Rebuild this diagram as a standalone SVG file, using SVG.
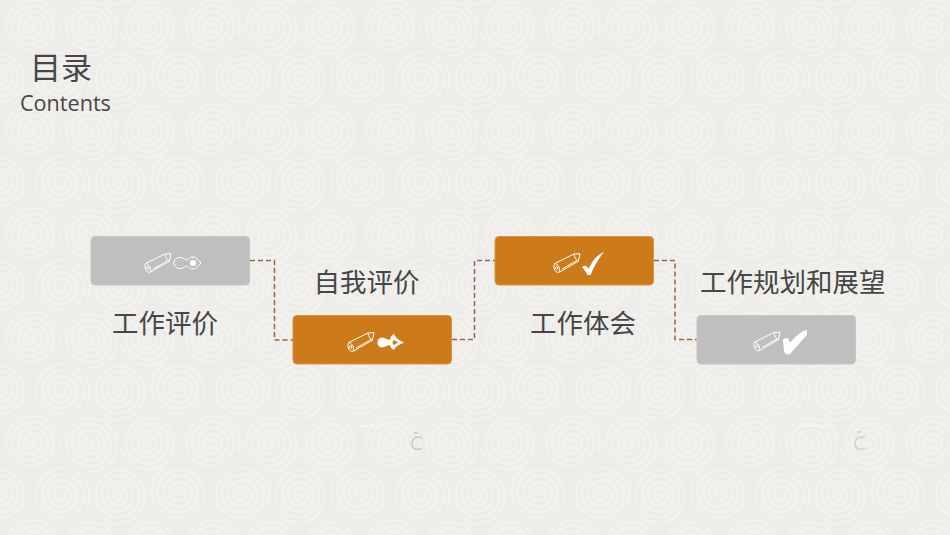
<svg xmlns="http://www.w3.org/2000/svg" width="950" height="535" viewBox="0 0 950 535">
<style>
.cjk{font-family:"Noto Sans CJK SC","Noto Sans",sans-serif;fill:#464646;font-size:26.500px}
.box{stroke-width:1}
.grey{fill:#bfbfbf;stroke:#c6c6c4}
.orange{fill:#cd7a1a;stroke:#d79445}
.conn{fill:none;stroke:#96694a;stroke-width:1.500;stroke-dasharray:5 3}
.sw{fill:none;stroke:#f3f2ef;stroke-width:1.800}
.pl{fill:none;stroke:#fff;stroke-width:1}
</style>
<defs>
<path id="spiral" d="M0 0a3 3 0 0 1 6 0a6 6 0 0 1-12 0a9 9 0 0 1 18 0a12 12 0 0 1-24 0a15 15 0 0 1 30 0a18 18 0 0 1-36 0a21 21 0 0 1 42 0a24 24 0 0 1-48 0a27 27 0 0 1 54 0"/>
<pattern id="tex" width="180" height="104" patternUnits="userSpaceOnUse">
<use href="#spiral" class="sw" transform="translate(0 -26) rotate(240)"/>
<use href="#spiral" class="sw" transform="translate(60 -26) rotate(30)"/>
<use href="#spiral" class="sw" transform="translate(120 -26) rotate(130)"/>
<use href="#spiral" class="sw" transform="translate(180 -26) rotate(240)"/>
<use href="#spiral" class="sw" transform="translate(30 26) rotate(20)"/>
<use href="#spiral" class="sw" transform="translate(90 26) rotate(95)"/>
<use href="#spiral" class="sw" transform="translate(150 26) rotate(170)"/>
<use href="#spiral" class="sw" transform="translate(0 78) rotate(240)"/>
<use href="#spiral" class="sw" transform="translate(60 78) rotate(30)"/>
<use href="#spiral" class="sw" transform="translate(120 78) rotate(130)"/>
<use href="#spiral" class="sw" transform="translate(180 78) rotate(240)"/>
<use href="#spiral" class="sw" transform="translate(30 130) rotate(20)"/>
<use href="#spiral" class="sw" transform="translate(90 130) rotate(95)"/>
<use href="#spiral" class="sw" transform="translate(150 130) rotate(170)"/>
</pattern>
<g id="pencil" class="pl">
<path d="M-12.300 0.500L7-9L13-9.300L11.300-1.700L-7.300 9C-9.500 10-12 8.500-12.800 6C-13.300 4-13.300 2-12.300 0.500Z"/>
<path d="M7-9C7.500-5.500 9-3 11.300-1.700M-12.300 0.500C-10 1-8 3-7.500 5.500C-7.300 7-7.300 8-7.300 9M-5 6L10-2.500"/>
<ellipse cx="-10.300" cy="5" rx="1.200" ry="1.500"/>
</g>
</defs>
<rect id="background" width="950" height="535" fill="#eeede9"/>
<rect id="texture" width="950" height="535" fill="url(#tex)"/>
<g id="marks">
<path d="M358 426H393M798 426H836" stroke="#f8f8f6" stroke-width="1" fill="none"/>
<path d="M422 438C416 435 412 439 412 444C412 449 418 451 422 448M414 433H418" stroke="#c9c8c4" stroke-width="1.500" fill="none"/>
<path d="M865 438C859 435 855 439 855 444C855 449 861 451 865 448M857 432H861" stroke="#d2d1cd" stroke-width="1.500" fill="none"/>
</g>

<g id="title">
<text class="cjk" x="30" y="79" style="font-size:31px">目录</text>
<text x="20" y="111" font-family="Open Sans,sans-serif" font-size="21.600" fill="#464646">Contents</text>
</g>

<g id="connectors">
<path class="conn" d="M250 260.500H274.500V340H293"/>
<path class="conn" d="M452 339.500H474.500V260.500H495"/>
<path class="conn" d="M654 260.500H675V339.500H697"/>
</g>

<g id="node-1">
<rect class="box grey" x="91" y="236.500" width="158.500" height="48.500" rx="4"/>
<use href="#pencil" x="158" y="263"/>
<path d="M180 257.500C184 257.500 185 260 187 260C188 260 189 257 193 257C196 257 198 260 201 263C198 266 196 269 193 269C189 269 188 266 187 266C185 266 184 268.500 180 268.500C172 268.500 172 257.500 180 257.500Z" fill="none" stroke="#fff" stroke-width="1"/>
<circle cx="193" cy="263" r="3" fill="#fff"/>
<text class="cjk" x="112" y="333">工作评价</text>
</g>

<g id="node-2">
<rect class="box orange" x="293" y="315.500" width="158.500" height="48.500" rx="4"/>
<use href="#pencil" x="361" y="342"/>
<path d="M382 337.500C385 337.500 387 340 390 340C390 337 392 335 394 334C395 337 398 340 404 342.500C398 345 395 347 394 350C392 349 390 347 390 345C387 345 385 347.500 382 347.500C376 347.500 376 337.500 382 337.500Z" fill="#fff"/>
<path d="M398 342.500L394 340C392 341 392 344 394 345Z" fill="#cd7a1a"/>
<text class="cjk" x="313.500" y="292">自我评价</text>
</g>

<g id="node-3">
<rect class="box orange" x="495" y="236.500" width="158.500" height="48.500" rx="4"/>
<use href="#pencil" x="567" y="263"/>
<path d="M582 267C584 265 587 265 588.500 269C592 261 597 255 604 252C598 259 594 267 590.500 275L587.500 275C586 272 584 269 582 267Z" fill="#fff"/>
<text class="cjk" x="530" y="333">工作体会</text>
</g>

<g id="node-4">
<rect class="box grey" x="697" y="315.500" width="158.500" height="48.500" rx="4"/>
<use href="#pencil" x="767" y="341.500"/>
<path d="M783 340C785 337 789 337 790 343C795 337 801 331 807 330L807 335C801 341 795 349 790 354C787 355 785 354 784 351C784 347 783 344 783 340Z" fill="#fff"/>
<text class="cjk" x="700" y="292">工作规划和展望</text>
</g>
</svg>
